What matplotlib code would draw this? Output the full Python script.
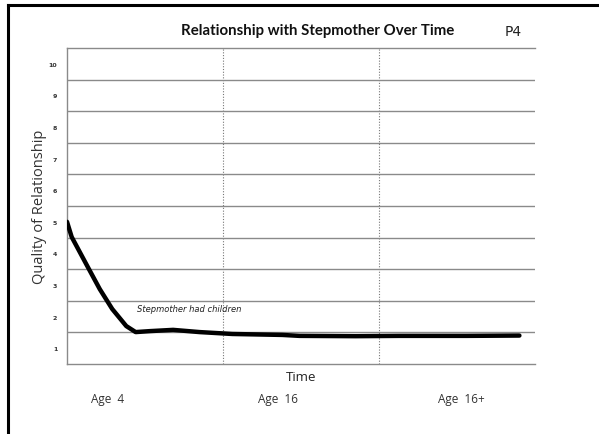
import matplotlib.pyplot as plt
from matplotlib.lines import Line2D

# values (x: 0 = age 4, 1 = age 16, 2 = age 16+, 3 = end)
time_pos = [0.0, 0.03, 0.13, 0.21, 0.29, 0.38, 0.44, 0.53, 0.68, 0.85,
            1.06, 1.38, 1.49, 1.85, 2.13, 2.56, 2.90]
quality = [5.0, 4.52, 3.60, 2.87, 2.24, 1.70, 1.51, 1.54, 1.58, 1.51,
           1.45, 1.42, 1.39, 1.38, 1.39, 1.39, 1.40]

y_ticks = [1, 2, 3, 4, 5, 6, 7, 8, 9, 10]
age_labels = ["Age  4", "Age  16", "Age  16+"]
age_pos = [0.26, 1.35, 2.53]

W, H = 599, 435
fig = plt.figure(figsize=(W / 100, H / 100), dpi=100)
ax = fig.add_axes([67 / W, (H - 365) / H, 468 / W, 316 / H])

grid_col = "#8a8a8a"
ax.set_xlim(0, 3)
ax.set_ylim(0.5, 10.5)

# horizontal bands: lines between the integer values
ax.set_yticks(y_ticks)
ax.set_yticklabels([str(t) for t in y_ticks], fontsize=4.5, fontweight="bold",
                   color="#333333", family="DejaVu Sans")
ax.set_yticks([v + 0.5 for v in range(1, 10)], minor=True)
ax.tick_params(axis="y", which="both", length=0, pad=7)
ax.grid(True, axis="y", which="minor", color=grid_col, lw=1.0)

# dotted vertical separators
ax.set_xticks([1, 2])
ax.set_xticklabels(["", ""])
ax.tick_params(axis="x", length=0)
ax.grid(True, axis="x", which="major", color="#777777", lw=0.8, ls=(0, (1, 1.5)))

for s in ["top", "bottom", "left"]:
    ax.spines[s].set_color(grid_col)
    ax.spines[s].set_linewidth(1.0)
ax.spines["right"].set_visible(False)

ax.plot(time_pos, quality, color="black", lw=3.2, solid_capstyle="round",
        solid_joinstyle="round", zorder=5)

ax.text(0.45, 2.18, "Stepmother had children", fontsize=6, family="DejaVu Sans",
        fontstyle="italic", color="#222222")

ax.set_ylabel("Quality of Relationship", fontsize=10.5, family="Open Sans",
              color="#333333")
ax.yaxis.set_label_coords(-0.058, 0.5)
ax.yaxis.label.set_va("center")
ax.set_xlabel("Time", fontsize=9.5, family="Open Sans", color="#222222", labelpad=1)

for lab, xp in zip(age_labels, age_pos):
    ax.text(xp, -0.58, lab, fontsize=8.5, family="Open Sans", color="#333333",
            ha="center", va="center")

fig.text(318 / W, 1 - 31 / H, "Relationship with Stepmother Over Time",
         fontsize=10.8, fontweight="bold", family="Lato", ha="center", va="center",
         color="#111111")
fig.text(513 / W, 1 - 32 / H, "P4", fontsize=10, family="DejaVu Sans",
         ha="center", va="center", color="#222222")

# scan border: top and left edges of the page
fig.add_artist(Line2D([8 / W, 1], [1 - 6 / H, 1 - 6 / H], color="black", lw=2.2))
fig.add_artist(Line2D([8 / W, 8 / W], [0, 1 - 6 / H], color="black", lw=2.2))

fig.savefig("out.png", dpi=100)
